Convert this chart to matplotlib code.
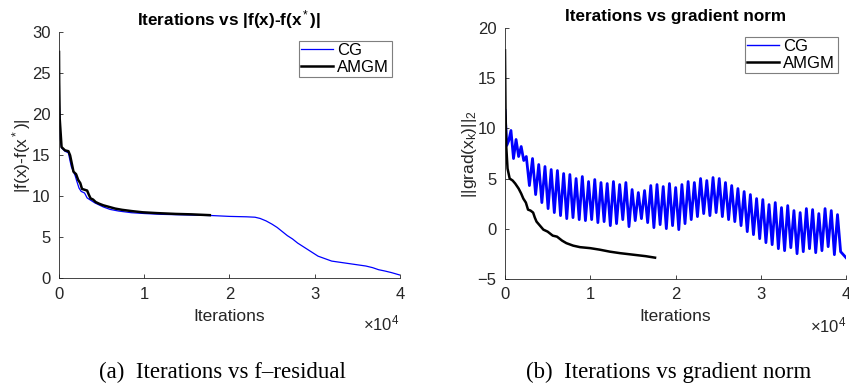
import numpy as np
import matplotlib.pyplot as plt

plt.rcParams['font.family'] = ['Liberation Sans', 'DejaVu Sans']
plt.rcParams['mathtext.fontset'] = 'custom'
plt.rcParams['mathtext.rm'] = 'Liberation Sans'
plt.rcParams['mathtext.it'] = 'Liberation Sans'

# ------------------------------------------------------------------
# DATI
# ------------------------------------------------------------------
# |f(x)-f(x*)|
cg_f_iter = [0, 50, 150, 300, 700, 1100, 1300, 1450, 1700, 1900, 2100, 2350,
             2600, 3000, 3300, 3600, 3900, 4200, 4600, 5200, 6000, 7000, 8500,
             10000, 12000, 14000, 16000, 18000, 20000, 22000, 23000, 23600,
             24300, 25000, 25600, 26200, 26800, 27400, 28000, 28600, 29200,
             29800, 30400, 31200, 32000, 33000, 34000, 35000, 36000, 36800,
             37500, 38200, 39000, 40000]
cg_f_val = [27.4, 21.0, 17.0, 15.9, 15.5, 15.3, 14.3, 13.6, 13.0, 12.5, 11.8, 11.0,
            10.6, 10.4, 9.8, 9.6, 9.4, 9.2, 9.0, 8.7, 8.4, 8.2, 8.0,
            7.9, 7.8, 7.75, 7.7, 7.65, 7.55, 7.5, 7.45, 7.3,
            7.0, 6.6, 6.2, 5.7, 5.2, 4.8, 4.3, 3.9, 3.5,
            3.1, 2.7, 2.4, 2.1, 1.95, 1.8, 1.65, 1.5, 1.3,
            1.05, 0.9, 0.7, 0.4]

amgm_f_iter = [0, 20, 80, 300, 700, 1100, 1300, 1500, 1700, 2000, 2250, 2500,
               2700, 3000, 3300, 3500, 3700, 4000, 4300, 4700, 5200, 5900,
               6600, 7400, 8500, 9800, 11500, 13700, 15500, 17700]
amgm_f_val = [27.6, 24.0, 19.5, 16.0, 15.6, 15.5, 15.0, 14.0, 13.0, 12.7, 12.0, 11.6,
              10.9, 10.8, 10.7, 10.2, 9.75, 9.6, 9.3, 9.1, 8.9, 8.7,
              8.5, 8.35, 8.2, 8.05, 7.95, 7.85, 7.8, 7.7]

# ||grad(x_k)||_2 , CG: tratto iniziale, poi picchi e valli alternati
cg_g_head_iter = [0, 200, 450, 700, 1000, 1300, 1600, 1900, 2200]
cg_g_head_val = [11.8, 8.3, 8.8, 9.8, 7.0, 8.9, 7.2, 8.2, 6.8]
cg_g_peaks = [7.2, 7.0, 6.4, 6.2, 5.9, 5.8, 5.5, 5.4, 5.0, 5.2,
              4.7, 4.9, 4.6, 4.5, 4.7, 4.4, 4.6, 3.9, 3.6, 3.8,
              4.3, 4.4, 4.2, 4.5, 4.1, 4.4, 4.7, 4.6, 5.0, 4.8,
              5.1, 5.0, 4.6, 4.3, 4.0, 3.7, 3.4, 3.0, 2.9, 2.4,
              2.6, 2.1, 2.3, 1.8, 1.6, 2.0, 1.9, 1.5, 2.0, 1.8, 1.4]
cg_g_troughs = [4.3, 3.4, 2.6, 2.0, 1.6, 1.3, 1.0, 1.1, 0.9, 0.8,
                0.9, 0.6, 0.7, 0.3, 0.5, 0.9, 0.2, 0.8, 1.0, 0.6,
                0.1, 0.4, 0.0, 0.3, -0.1, 0.5, 0.9, 1.2, 1.5, 1.3,
                1.6, 1.2, 0.9, 0.7, 0.3, -0.3, -0.6, -1.0, -1.4, -1.6,
                -2.0, -2.2, -1.9, -2.5, -2.3, -2.0, -2.4, -2.2, -1.8, -2.6, -2.3]
cg_g_end = -2.9

amgm_g_iter = [0, 60, 150, 300, 550, 900, 1200, 1600, 1900, 2150, 2450, 2700,
               3000, 3300, 3500, 3700, 4000, 4500, 5000, 5600, 6100, 6700,
               7200, 8000, 8800, 10000, 11100, 12300, 13500, 15000, 16500, 17600]
amgm_g_val = [17.8, 12.0, 8.2, 6.0, 5.0, 4.8, 4.5, 4.0, 3.5, 3.0, 2.6, 1.9,
              1.8, 1.6, 1.1, 0.7, 0.4, -0.1, -0.3, -0.7, -0.8, -1.2,
              -1.45, -1.7, -1.85, -1.95, -2.1, -2.3, -2.45, -2.6, -2.75, -2.9]

xticks = [0, 10000, 20000, 30000, 40000]
xtick_labels = ['0', '1', '2', '3', '4']

# costruzione della serie CG del gradiente
cg_g_iter = list(cg_g_head_iter)
cg_g_val = list(cg_g_head_val)
for k, (p, t) in enumerate(zip(cg_g_peaks, cg_g_troughs)):
    cg_g_iter += [2500 + 730 * k, 2500 + 730 * k + 365]
    cg_g_val += [p, t]
cg_g_iter.append(40000)
cg_g_val.append(cg_g_end)

# ------------------------------------------------------------------
# GRAFICO
# ------------------------------------------------------------------
grey = '#262626'
fig = plt.figure(figsize=(8.49, 3.88), dpi=100)
ax1 = fig.add_axes([0.0695, 0.2827, 0.4015, 0.6341])
ax2 = fig.add_axes([0.5948, 0.2817, 0.4017, 0.6453])


def style(ax):
    ax.set_xlim(0, 40000)
    ax.set_xticks(xticks)
    ax.set_xticklabels(xtick_labels)
    for s in ['top', 'right']:
        ax.spines[s].set_visible(False)
    for s in ['left', 'bottom']:
        ax.spines[s].set_color(grey)
        ax.spines[s].set_linewidth(0.6)
    ax.tick_params(direction='in', length=3, width=0.6, colors=grey,
                   labelsize=12, pad=6)
    ax.set_xlabel('Iterations', fontsize=12.5, color=grey, labelpad=5)
    ax.text(1.0, -0.145, r'$\times$10$^4$', transform=ax.transAxes,
            ha='right', va='top', fontsize=12, color=grey)
    leg = ax.legend(loc='upper right', fontsize=12, fancybox=False,
                    framealpha=1, borderaxespad=0.5, handlelength=1.9,
                    borderpad=0.15, labelspacing=0.1, handletextpad=0.25)
    leg.get_frame().set_edgecolor('#7f7f7f')
    leg.get_frame().set_linewidth(0.8)
    return leg


ax1.plot(cg_f_iter, cg_f_val, color='blue', linewidth=0.9, label='CG')
ax1.plot(amgm_f_iter, amgm_f_val, color='black', linewidth=1.8, label='AMGM')
ax1.set_ylim(0, 30)
ax1.set_yticks([0, 5, 10, 15, 20, 25, 30])
ax1.set_ylabel(r'|f(x)-f(x$^*$)|', fontsize=12.5, color=grey, labelpad=-1)
ax1.set_title(r'Iterations vs |f(x)-f(x$^*$)|', fontsize=12.3, fontweight='bold',
              pad=5)
style(ax1)

ax2.plot(cg_g_iter, cg_g_val, color='blue', linewidth=2.0, label='CG')
ax2.plot(amgm_g_iter, amgm_g_val, color='black', linewidth=1.8, label='AMGM')
ax2.set_ylim(-5, 20)
ax2.set_yticks([-5, 0, 5, 10, 15, 20])
ax2.set_ylabel(r'||grad(x$_k$)||$_2$', fontsize=12.5, color=grey, labelpad=-1)
ax2.set_title('Iterations vs gradient norm', fontsize=12.3, fontweight='bold',
              pad=5)
leg2 = style(ax2)
leg2.get_lines()[0].set_linewidth(1.0)

fig.text(0.262, 0.041, '(a)  Iterations vs f\u2013residual', ha='center',
         va='center', fontsize=16.5, family='Liberation Serif')
fig.text(0.787, 0.041, '(b)  Iterations vs gradient norm', ha='center',
         va='center', fontsize=16.5, family='Liberation Serif')

plt.savefig('out.png', dpi=100)
